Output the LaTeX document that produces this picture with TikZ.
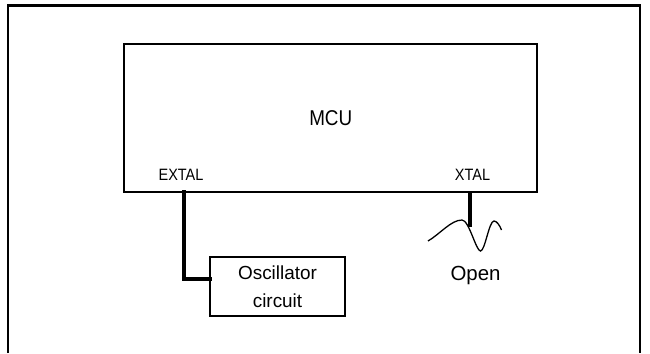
\documentclass[tikz,border=0pt]{standalone}
\usepackage{fontspec}
\setmainfont{Liberation Sans}
\newfontfamily\narrowsans[FakeStretch=0.88]{Liberation Sans}
\begin{document}
\begin{tikzpicture}[x=1bp, y=-1bp,
    box/.style={draw, line width=2bp, inner sep=0pt},
    pinlabel/.style={anchor=base, inner sep=0pt, font=\narrowsans\fontsize{16.5}{18}\selectfont},
    wire/.style={line width=3.8bp, line cap=rect, line join=miter}]
    \useasboundingbox (0, 0) rectangle (650, 353);
    \draw[line width=2.7bp] (8, 353) |- (640, 5.5) -- (640, 353);
    \node[box, minimum width=412.5bp, minimum height=148bp,
          font=\narrowsans\fontsize{21.5}{24}\selectfont] (mcu) at (330.75, 118) {MCU};
    \node[pinlabel] (extal) at (181, 180) {EXTAL};
    \node[pinlabel] (xtal) at (472.5, 180) {XTAL};
    \node[box, line width=1.3bp, minimum width=135bp, minimum height=59bp, align=center,
          font=\fontsize{19}{28}\selectfont] (osc) at (277.5, 286.5) {Oscillator\\circuit};
    \coordinate (extalpin) at (184, 192);
    \coordinate (oscin) at (210, 279);
    \coordinate (xtalpin) at (470, 192);
    \coordinate (xtalend) at (470, 227);
    \draw[wire] (extalpin) |- (oscin);
    \draw[wire, line cap=butt] (xtalpin) -- (xtalend);
    \draw[line width=1.3bp] (428, 241) .. controls (440, 234) and (451, 220) .. (462, 220)
        .. controls (469, 220) and (476, 251) .. (480.5, 251)
        .. controls (485, 251) and (489, 221) .. (494, 221)
        .. controls (497, 221) and (500, 226) .. (501.5, 230);
    \node[anchor=base, inner sep=0pt, font=\fontsize{20.5}{24}\selectfont] (open) at (475.5, 280) {Open};
\end{tikzpicture}
\end{document}
